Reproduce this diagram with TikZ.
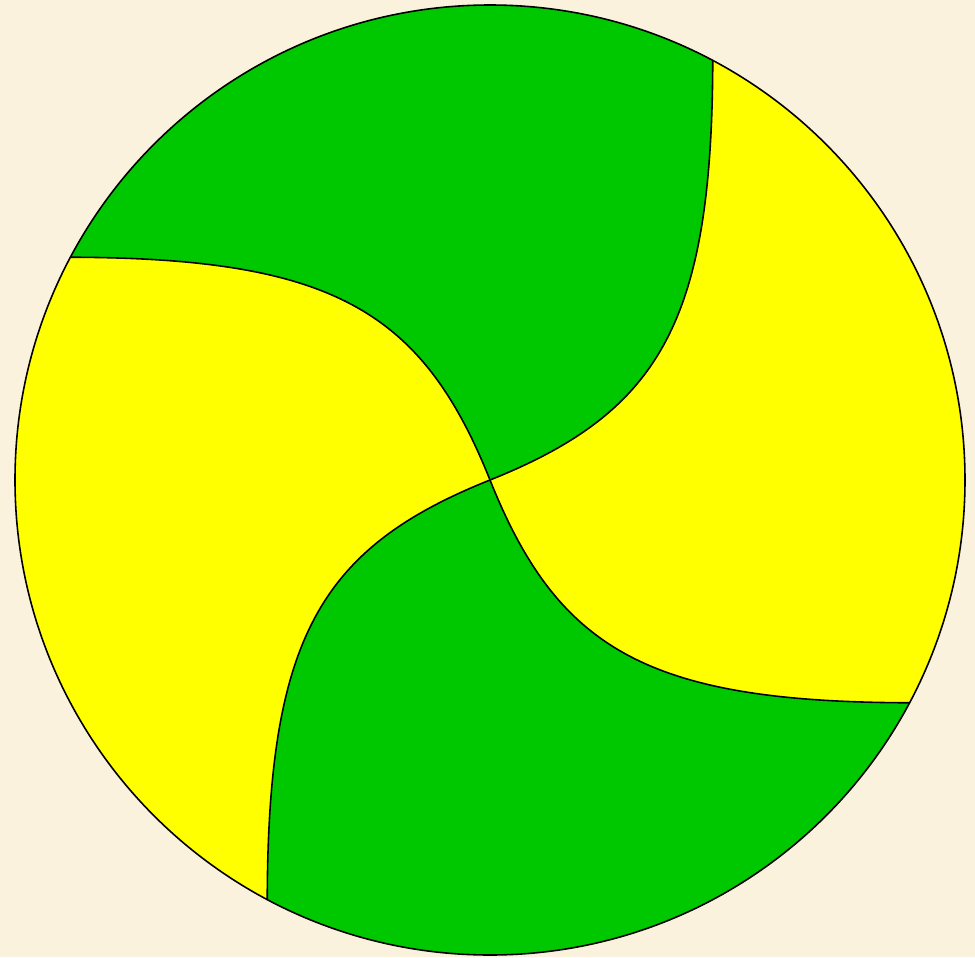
\documentclass[tikz,border=0pt]{standalone}
\usepackage{tikz}
\definecolor{parchment}{RGB}{251, 242, 222}
\definecolor{vanegreen}{RGB}{0, 200, 0}
\definecolor{vaneyellow}{RGB}{255, 255, 0}
\begin{document}
\begin{tikzpicture}[
    disc/.style={fill=vaneyellow},
    vane/.style={fill=vanegreen},
    seam/.style={draw=black, line width=0.45pt}
  ]
    \fill[parchment] (0,0) rectangle (9.75,9.57);
    \useasboundingbox (0,0) rectangle (9.75,9.57);
    \begin{scope}[shift={(4.90,4.77)}]
      % yellow disc, then the two green vanes on top
      \fill[disc] (0,0) circle[radius=4.75];
      \foreach \a in {0,180} {
        \fill[vane, rotate=\a] (0,0) .. controls (1.70,0.68) and (2.22,1.58) .. (62.03:4.75)
          arc[start angle=62.03, end angle=152.03, radius=4.75]
          .. controls (-1.58,2.22) and (-0.68,1.70) .. (0,0) -- cycle;
      }
      % the four seams from the middle out to the rim
      \foreach \a in {0,90,180,270} {
        \draw[seam, rotate=\a] (0,0) .. controls (1.70,0.68) and (2.22,1.58) .. (62.03:4.75);
      }
      \draw[seam] (0,0) circle[radius=4.75];
    \end{scope}
  \end{tikzpicture}
\end{document}
